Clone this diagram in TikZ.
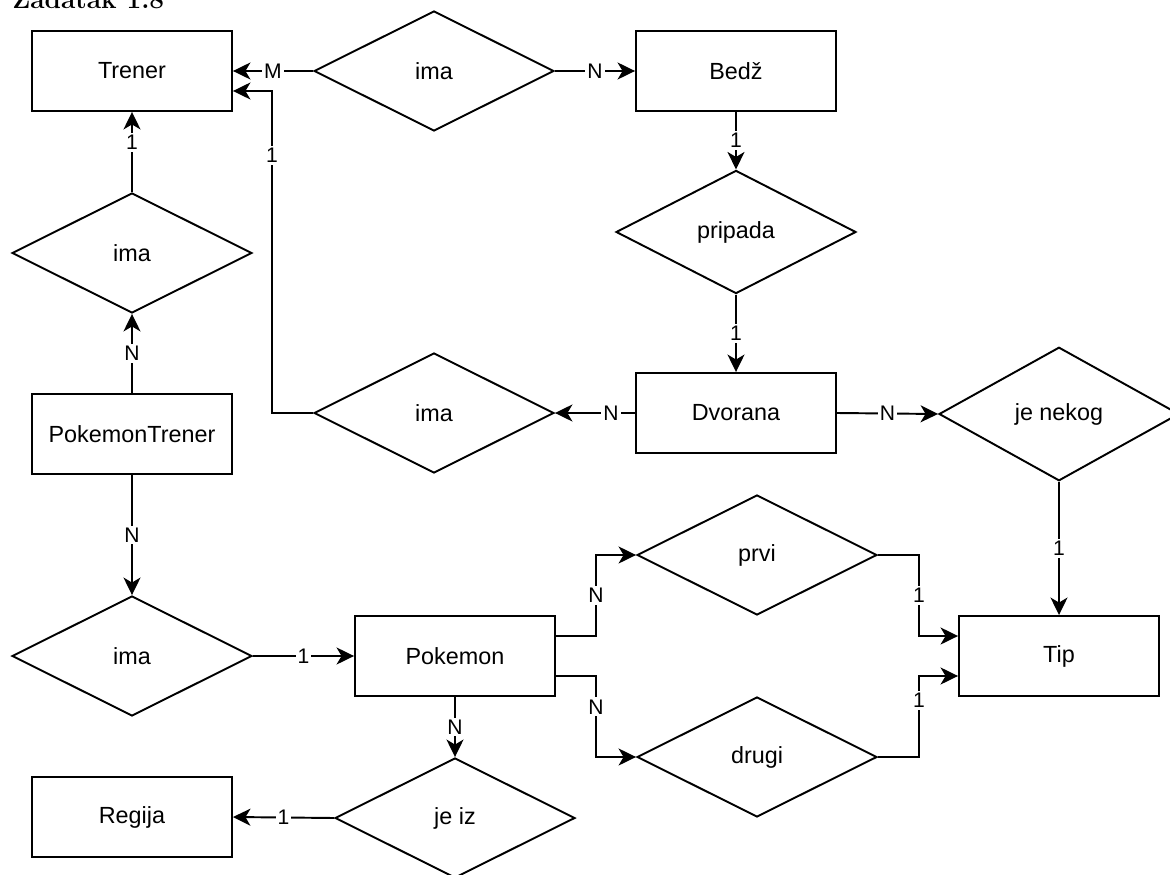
\documentclass[tikz,border=0pt]{standalone}
\usepackage{fontspec}
\setsansfont{Liberation Sans}
\usetikzlibrary{shapes.geometric,arrows.meta}
\tikzset{
    entity/.style ={
        shape=rectangle,
        draw=black,
        line width=1.1pt,
        minimum width=4cm,
        minimum height=1.6cm,
        font=\sffamily\fontsize{13.3}{16}\selectfont
    },
    relation/.style ={
        shape=diamond,
        draw=black,
        line width=1.1pt,
        minimum width=4.8cm,
        minimum height=2.4cm,
        font=\sffamily\fontsize{13.3}{16}\selectfont
    },
    conn/.style ={
        line width=1.1pt,
        -{Stealth[length=0.35cm,width=0.34cm,inset=0.1cm]}
    },
    card/.style ={
        fill=white,
        inner sep=1.2pt,
        font=\sffamily\fontsize{12}{14}\selectfont
    }
}

\begin{document}
\begin{tikzpicture}[x=0.02cm,y=-0.02cm]
    \useasboundingbox (0,0) rectangle (1170,875);
    \node[anchor=base west, inner sep=0pt, font=\rmfamily\bfseries\fontsize{14.9}{18}\selectfont] (naslov) at(12,9) {Zadatak 1.8};

    \node[entity] (trener) at(132,71) {Trener};
    \node[relation] (imaTB) at(434,71) {ima};
    \node[entity] (bedz) at(736,71) {Bedž};
    \node[relation] (pripada) at(736,232) {pripada};
    \node[relation] (imaTP) at(132,253) {ima};
    \node[entity] (ptrener) at(132,434) {PokemonTrener};
    \node[relation] (imaTD) at(434,413) {ima};
    \node[entity] (dvorana) at(736,413) {Dvorana};
    \node[relation] (jenekog) at(1059,414) {je nekog};
    \node[relation] (prvi) at(757,555) {prvi};
    \node[relation] (imaPP) at(132,656) {ima};
    \node[entity] (pokemon) at(455,656) {Pokemon};
    \node[entity] (tip) at(1059,656) {Tip};
    \node[relation] (drugi) at(757,757) {drugi};
    \node[entity] (regija) at(132,817) {Regija};
    \node[relation] (jeiz) at(455,818) {je iz};

    \draw[conn] (imaTB.west) -- node[card]{M} (trener.east);
    \draw[conn] (imaTB.east) -- node[card]{N} (bedz.west);
    \draw[conn] (bedz.south) -- node[card]{1} (pripada.north);
    \draw[conn] (pripada.south) -- node[card]{1} (dvorana.north);
    \draw[conn] (dvorana.west) -- node[card,pos=0.3]{N} (imaTD.east);
    \draw[conn] (imaTD.west) -- ++(-41,0) |- node[card,pos=0.4]{1} ([yshift=-0.4cm]trener.east);
    \draw[conn] (dvorana.east) -- node[card]{N} (jenekog.west);
    \draw[conn] (jenekog.south) -- node[card]{1} (tip.north);
    \draw[conn] (imaTP.north) -- node[card,pos=0.62]{1} (trener.south);
    \draw[conn] (ptrener.north) -- node[card]{N} (imaTP.south);
    \draw[conn] (ptrener.south) -- node[card]{N} (imaPP.north);
    \draw[conn] (imaPP.east) -- node[card]{1} (pokemon.west);
    \draw[conn] ([yshift=0.4cm]pokemon.east) -- ++(40,0) |- node[card,pos=0.25]{N} (prvi.west);
    \draw[conn] ([yshift=-0.4cm]pokemon.east) -- ++(40,0) |- node[card,pos=0.19]{N} (drugi.west);
    \draw[conn] (prvi.east) -- ++(41,0) |- node[card,pos=0.25]{1} ([yshift=0.4cm]tip.west);
    \draw[conn] (drugi.east) -- ++(41,0) |- node[card,pos=0.35]{1} ([yshift=-0.4cm]tip.west);
    \draw[conn] (pokemon.south) -- node[card]{N} (jeiz.north);
    \draw[conn] (jeiz.west) -- node[card]{1} (regija.east);
\end{tikzpicture}
\end{document}
